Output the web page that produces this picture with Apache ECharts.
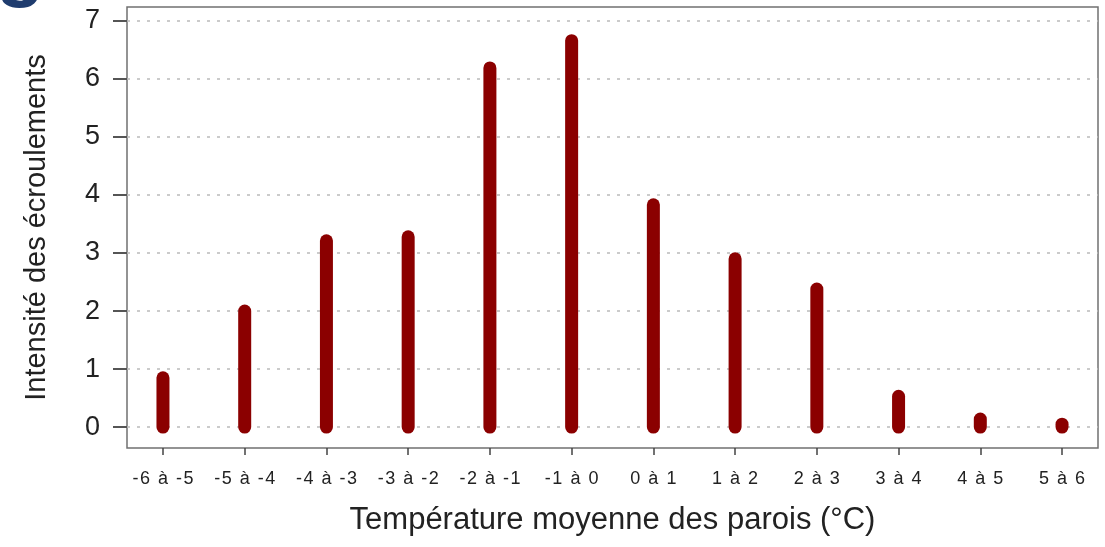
<!DOCTYPE html>
<html><head><meta charset="utf-8">
<script src="https://cdn.jsdelivr.net/npm/echarts@6/dist/echarts.min.js"></script>
<style>html,body{margin:0;padding:0;background:#fff}#c{width:1105px;height:547px}</style>
</head><body><div id="c"></div>
<script>
const categories = ['-6 à -5','-5 à -4','-4 à -3','-3 à -2','-2 à -1','-1 à 0','0 à 1','1 à 2','2 à 3','3 à 4','4 à 5','5 à 6'];
const values = [0.85, 2.0, 3.21, 3.28, 6.19, 6.66, 3.83, 2.9, 2.38, 0.53, 0.14, 0.05];
const yTicks = [0,1,2,3,4,5,6,7];
const xIdx = categories.map((c,i)=>i);

const chart = echarts.init(document.getElementById('c'), null, {renderer:'canvas'});
const font = '"Liberation Sans", Arial, sans-serif';
chart.setOption({
  animation:false,
  backgroundColor:'#fff',
  graphic:[{type:'text', left:-4, top:-71, style:{text:'g', font:'bold 80px "Liberation Sans"', fill:'#1f3c6e'}}],
  grid:{left:127, right:7, top:7, bottom:99, show:true, borderColor:'#707070', borderWidth:1.5},
  xAxis:{type:'value', min:-0.44, max:11.44,
    axisLine:{show:false, onZero:false}, splitLine:{show:false},
    axisTick:{show:true, length:7, customValues:xIdx, lineStyle:{color:'#444', width:1.5}},
    axisLabel:{customValues:xIdx, margin:22, fontFamily:font, fontSize:18, color:'#222',
      formatter:v=>categories[Math.round(v)].split('').join('\u200a')},
    name:'Température moyenne des parois (°C)', nameLocation:'middle', nameGap:57,
    nameTextStyle:{fontFamily:font, fontSize:31, color:'#222'}},
  yAxis:{type:'value', min:-0.36, max:7.24,
    axisLine:{show:false, onZero:false}, splitLine:{show:false},
    axisTick:{show:true, length:14, customValues:yTicks, lineStyle:{color:'#555', width:2}},
    axisLabel:{customValues:yTicks, margin:27, fontFamily:font, fontSize:27, color:'#222'},
    name:'Intensité des écroulements', nameLocation:'middle', nameGap:76,
    nameTextStyle:{fontFamily:font, fontSize:29, color:'#222'}},
  series:[
    {type:'line', data:[], silent:true, z:1,
      markLine:{silent:true, symbol:'none', label:{show:false},
        lineStyle:{color:'#bbb', type:[3,7], width:1.5},
        data:yTicks.map(v=>({yAxis:v}))}},
    {type:'custom', z:5,
      data:values.map((v,i)=>[i,v]),
      renderItem:function(params, api){
        const p0 = api.coord([api.value(0), 0]);
        const p1 = api.coord([api.value(0), api.value(1)]);
        return {type:'line', shape:{x1:p0[0], y1:p0[1], x2:p1[0], y2:p1[1]},
          style:{stroke:'#8b0000', lineWidth:13, lineCap:'round'}};
      }}
  ]
});
</script></body></html>
